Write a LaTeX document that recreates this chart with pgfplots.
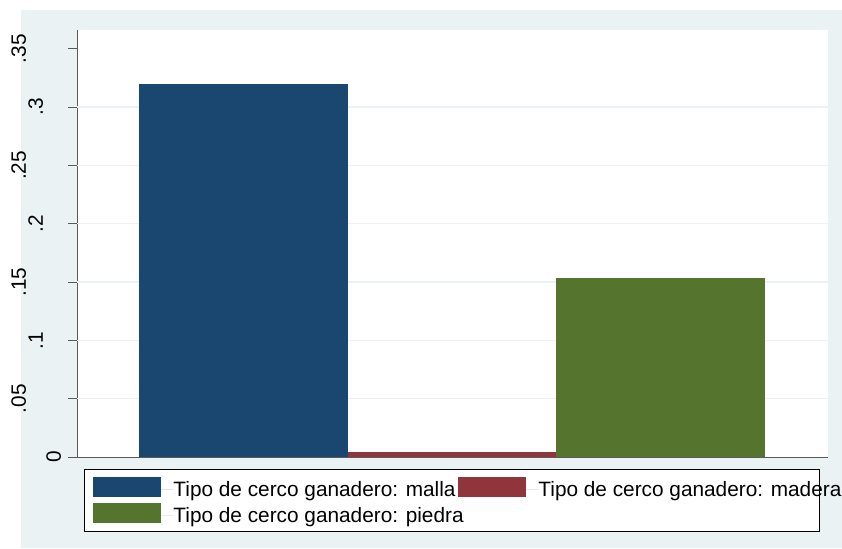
\documentclass[border=0pt]{standalone}
\usepackage{fontspec}
\setmainfont{Liberation Sans}
\usepackage{pgfplots}
\pgfplotsset{compat=1.18}
\definecolor{bgc}{RGB}{234,242,243}
\definecolor{gridc}{RGB}{234,242,243}
\definecolor{c1}{RGB}{26,71,111}
\definecolor{c2}{RGB}{144,53,59}
\definecolor{c3}{RGB}{85,117,47}
\definecolor{axc}{RGB}{90,90,90}
\pgfplotsset{swatch legend/.style={legend image code/.code={\fill[##1] (0pt,-7.5pt) rectangle (68pt,12.5pt); \path (68pt,0pt) -- (80pt,0pt);}}}
\begin{document}
\begin{tikzpicture}
\useasboundingbox (0pt,0pt) rectangle (842pt,548pt);
\fill[bgc] (21pt,0pt) rectangle (842pt,538pt);
\begin{axis}[
  at={(77pt,91pt)}, anchor=south west,
  scale only axis, width=751pt, height=427pt,
  xmin=-0.797, xmax=2.803, ymin=0, ymax=0.366,
  axis x line*=bottom, axis y line*=left,
  axis line style={draw=axc, line width=0.9pt},
  axis background/.style={fill=white},
  xtick=\empty,
  ytick={0,0.05,0.1,0.15,0.2,0.25,0.3,0.35},
  yticklabels={\raisebox{7pt}{0},\raisebox{42pt}{.05},\raisebox{25pt}{.1},\raisebox{42pt}{.15},\raisebox{25pt}{.2},\raisebox{42pt}{.25},\raisebox{25pt}{.3},\raisebox{42pt}{.35}},
  yticklabel style={rotate=90, anchor=base, inner sep=0pt, font=\fontsize{20.8}{25}\selectfont},
  tick align=outside, major tick length=9pt,
  ytick style={draw=axc, line width=0.9pt},
  extra y ticks={0.05,0.1,0.15,0.2,0.25,0.3},
  extra y tick labels={},
  extra y tick style={grid=major, major tick length=0pt, major grid style={draw=gridc, line width=1.3pt}},
  legend cell align=left,
  legend columns=2,
  legend style={at={(0,0)}, anchor=north west, xshift=7pt, yshift=-12pt,
    draw=black, line width=0.9pt, fill=white, inner xsep=9pt, inner ysep=8pt,
    column sep=0pt, row sep=4.6pt, nodes={inner sep=0pt},
    font=\fontsize{20.8}{25}\selectfont},
]
\addplot[ybar, bar width=1, bar shift=0pt, fill=c1, draw=none, swatch legend] coordinates {(0,0.32)};
\addlegendentry{\makebox[285pt][l]{Tipo de cerco ganadero: malla}}
\addplot[ybar, bar width=1, bar shift=0pt, fill=c2, draw=none, swatch legend] coordinates {(1,0.0043)};
\addlegendentry{\makebox[272pt][l]{Tipo de cerco ganadero: madera}}
\addplot[ybar, bar width=1, bar shift=0pt, fill=c3, draw=none, swatch legend] coordinates {(2,0.1535)};
\addlegendentry{\makebox[285pt][l]{Tipo de cerco ganadero: piedra}}
\end{axis}
\end{tikzpicture}
\end{document}
